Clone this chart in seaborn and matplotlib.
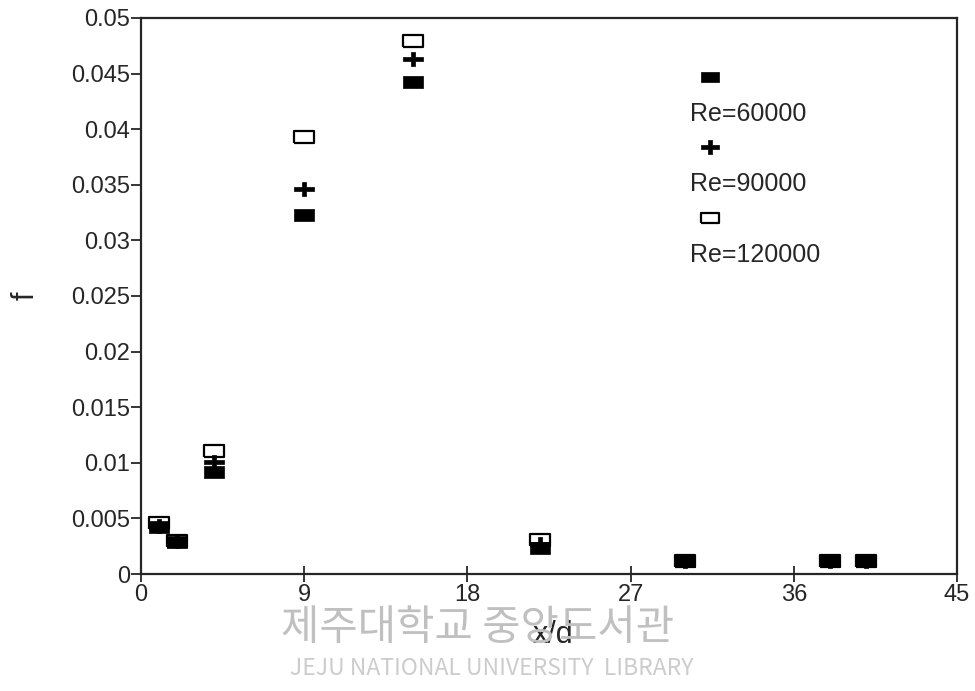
import numpy as np
import pandas as pd
import matplotlib
matplotlib.use('Agg')
import matplotlib.pyplot as plt
from matplotlib.lines import Line2D
import seaborn as sns

# dados (f versus x/d)
x_d = [1, 2, 4, 9, 15, 22, 30, 38, 40]
f_60000 = [0.0042, 0.0029, 0.0092, 0.0323, 0.0442, 0.0023, 0.0012, 0.0012, 0.0012]
f_90000 = [0.0043, 0.0030, 0.0101, 0.0346, 0.0463, 0.0027, 0.0012, 0.0012, 0.0012]
f_120000 = [0.0046, 0.0030, 0.0111, 0.0393, 0.0479, 0.0031, 0.0012, 0.0012, 0.0012]
labels = ['Re=60000', 'Re=90000', 'Re=120000']
x_ticks = [0, 9, 18, 27, 36, 45]
y_ticks = [0, 0.005, 0.01, 0.015, 0.02, 0.025, 0.03, 0.035, 0.04, 0.045, 0.05]
y_ticklabels = ['0', '0.005', '0.01', '0.015', '0.02', '0.025', '0.03', '0.035', '0.04', '0.045', '0.05']

df = pd.DataFrame({'x/d': x_d * 3,
                   'f': f_60000 + f_90000 + f_120000,
                   'Re': [labels[0]] * 9 + [labels[1]] * 9 + [labels[2]] * 9})

sns.set_style('ticks')
plt.rcParams['font.family'] = ['Liberation Sans', 'DejaVu Sans']

# formas dos marcadores (retângulo e cruz larga)
rect = [(-1, -0.6), (1, -0.6), (1, 0.6), (-1, 0.6), (-1, -0.6)]
cross = [(-1, -0.22), (-0.22, -0.22), (-0.22, -0.75), (0.22, -0.75), (0.22, -0.22),
         (1, -0.22), (1, 0.22), (0.22, 0.22), (0.22, 0.75), (-0.22, 0.75),
         (-0.22, 0.22), (-1, 0.22), (-1, -0.22)]
styles = {
    'Re=120000': dict(marker=rect, s=190, facecolor='white', edgecolor='black', linewidth=1.6),
    'Re=90000': dict(marker=cross, s=190, facecolor='black', edgecolor='black', linewidth=0.5),
    'Re=60000': dict(marker=rect, s=190, facecolor='black', edgecolor='black', linewidth=0.5),
}

fig = plt.figure(figsize=(9.75, 6.91), dpi=100)
ax = fig.add_axes([0.1446, 0.1693, 0.8369, 0.8047])

for lab in ['Re=120000', 'Re=90000', 'Re=60000']:
    sub = df[df['Re'] == lab]
    sns.scatterplot(data=sub, x='x/d', y='f', ax=ax, legend=False, zorder=3, **styles[lab])

ax.set_xlim(0, 45)
ax.set_ylim(0, 0.05)
ax.set_xticks(x_ticks)
ax.set_xticklabels([str(t) for t in x_ticks])
ax.set_yticks(y_ticks)
ax.set_yticklabels(y_ticklabels)
ax.tick_params(axis='x', direction='inout', length=12, width=1.3, labelsize=17, pad=1)
ax.tick_params(axis='y', direction='out', length=7, width=1.3, labelsize=17, pad=1)
for sp in ax.spines.values():
    sp.set_linewidth(1.6)
    sp.set_visible(True)

ax.set_xlabel('x/d', fontsize=22, labelpad=0)
ax.xaxis.set_label_coords(0.505, -0.082)
ax.set_ylabel('f', fontsize=22, labelpad=22)
ax.xaxis.label.set_zorder(5)

# legenda: marcador em cima, rótulo embaixo
handles, leg_labels = [], []
for lab in labels:
    st = styles[lab]
    handles.append(Line2D([], [], linestyle='none', marker=st['marker'], markersize=13,
                          markerfacecolor=st['facecolor'], markeredgecolor='black',
                          markeredgewidth=st['linewidth']))
    leg_labels.append('')
    handles.append(Line2D([], [], linestyle='none'))
    leg_labels.append(lab)
ax.legend(handles, leg_labels, frameon=False, fontsize=18, loc='upper left',
          bbox_to_anchor=(0.651, 0.935), handlelength=2, handletextpad=-1.8,
          labelspacing=0.45, borderpad=0)

# marca d'água da biblioteca
fig.text(0.490, 0.090, '제주대학교 중앙도서관', fontsize=30, color='#c0c0c0',
         ha='center', va='center', family=['Noto Sans CJK KR', 'DejaVu Sans'], zorder=0)
fig.text(0.5046, 0.033, 'JEJU NATIONAL UNIVERSITY  LIBRARY', fontsize=16.5, color='#cccccc',
         ha='center', va='center', family=['Noto Sans CJK KR', 'DejaVu Sans'], zorder=0)

fig.savefig('out.png', dpi=100)
